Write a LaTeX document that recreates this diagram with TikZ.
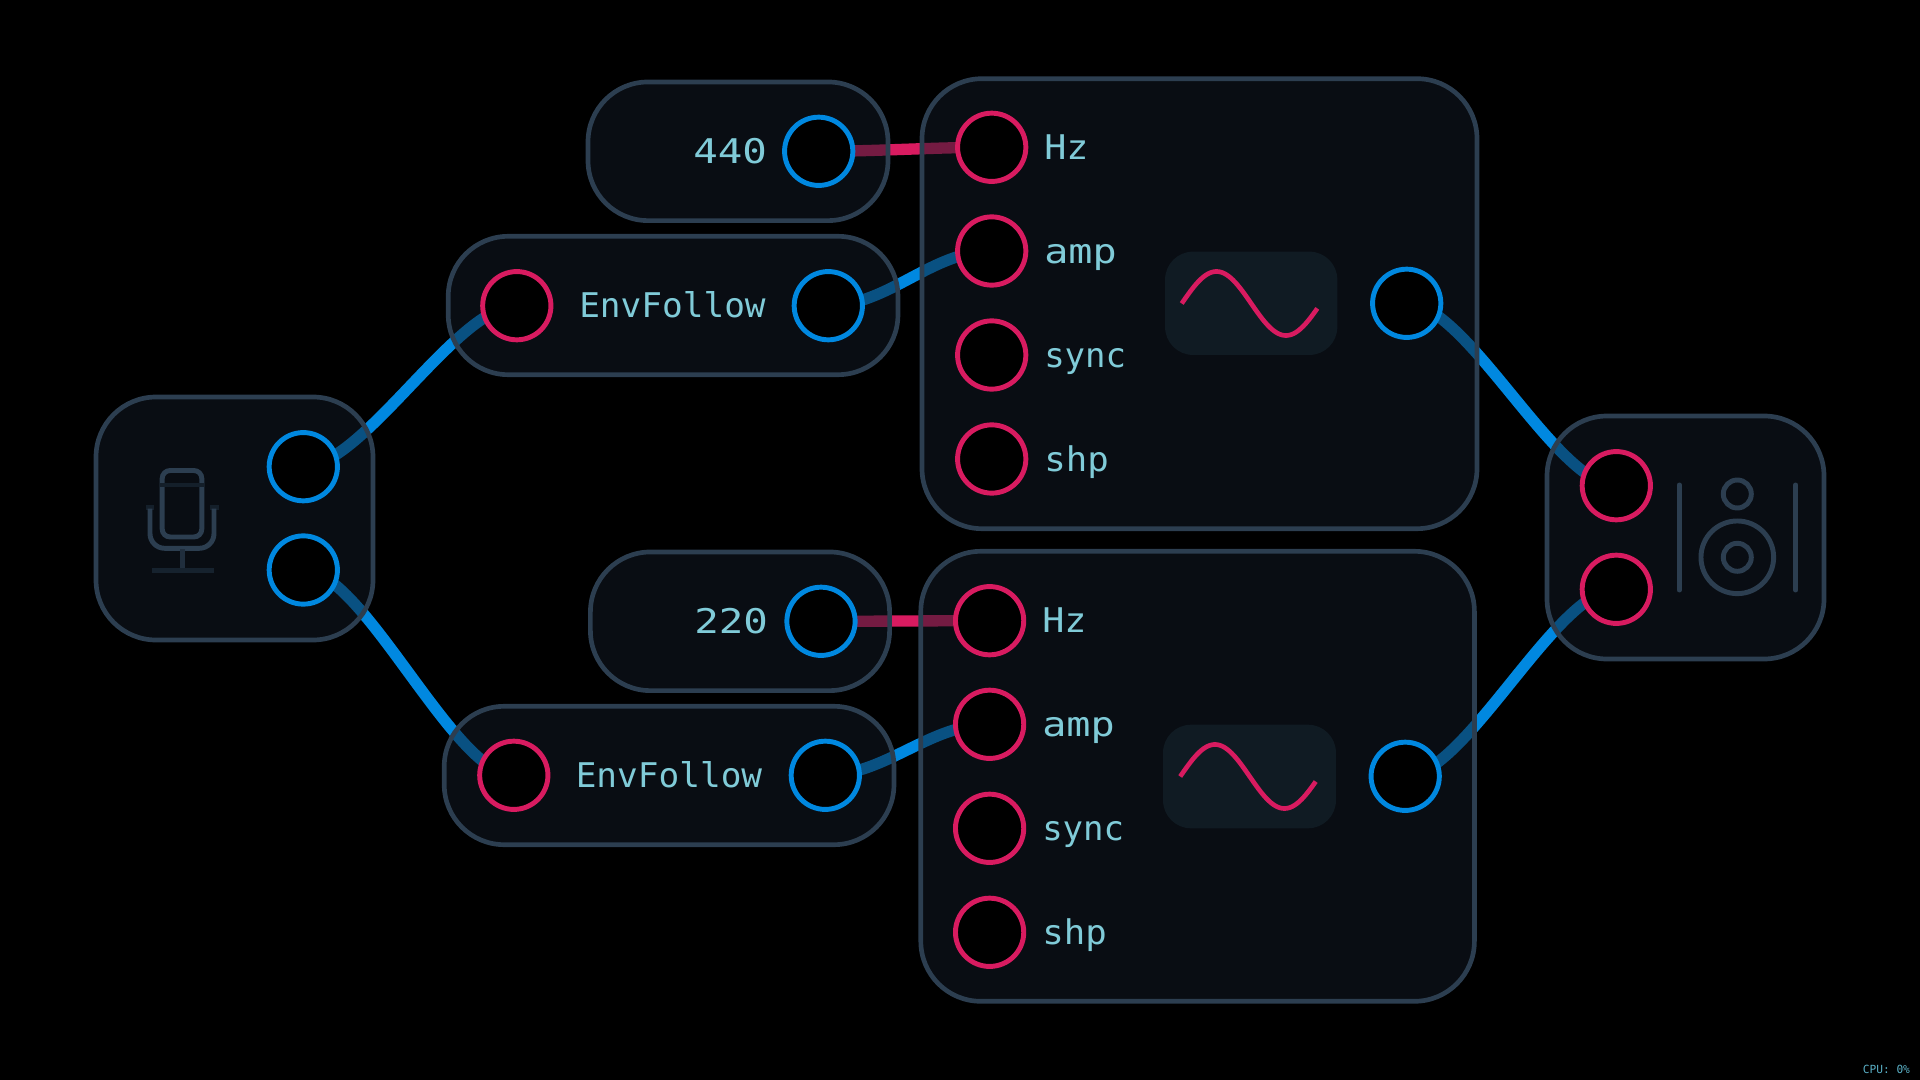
\documentclass[tikz,border=0pt]{standalone}
\usepackage{fontspec}
\setmainfont{DejaVu Sans Mono}
\definecolor{edgec}{HTML}{2C3E50}
\definecolor{bluec}{HTML}{0088E0}
\definecolor{pinkc}{HTML}{D81B60}
\definecolor{textc}{HTML}{80CBD8}
\definecolor{boxc}{HTML}{121B26}
\definecolor{wavec}{HTML}{101B23}
\definecolor{dimc}{HTML}{141F2A}
\definecolor{cpuc}{HTML}{5AB0C6}
\pgfdeclarelayer{back}\pgfdeclarelayer{wire}\pgfdeclarelayer{box}
\pgfsetlayers{back,wire,box,main}
\tikzset{
  x=0.75pt,y=-0.75pt,
  modbox/.style={rectangle,draw=edgec,fill=boxc,fill opacity=.5,line width=3.5pt,rounded corners=45pt,inner sep=0pt,outer sep=0pt},
  portout/.style={circle,draw=bluec,fill=black,line width=3.7pt,minimum size=51.2pt,inner sep=0pt},
  portin/.style={circle,draw=pinkc,fill=black,line width=3.7pt,minimum size=51.2pt,inner sep=0pt},
  wirebl/.style={draw=bluec,line width=8.5pt},
  wirepk/.style={draw=pinkc,line width=8.5pt},
  lab/.style={text=textc,font=\fontsize{25.5pt}{25.5pt}\selectfont,anchor=base west,inner sep=0pt},
  icon/.style={draw=edgec,line width=3.7pt},
  wavebox/.style={rectangle,fill=wavec,rounded corners=21pt,inner sep=0pt},
  wavepath/.style={draw=pinkc,line width=3.5pt,line join=round},
}
\begin{document}
\begin{tikzpicture}
\begin{pgfonlayer}{back}
\fill[black] (0,0) rectangle (1920,1080);
\end{pgfonlayer}
\useasboundingbox (0,0) rectangle (1920,1080);
% boxes
\begin{pgfonlayer}{box}
\node[modbox,minimum width=207.75pt,minimum height=182.25pt] (mic) at (234.5,518.5) {};
\node[modbox,minimum width=207.75pt,minimum height=182.25pt] (spk) at (1685.5,537.5) {};
\node[modbox,minimum width=225pt,minimum height=104pt] (c440) at (738,151.3) {};
\node[modbox,minimum width=337.3pt,minimum height=103.8pt] (env1) at (673.1,305.5) {};
\node[modbox,minimum width=416.25pt,minimum height=337.5pt] (osc1) at (1199.5,303.7) {};
\node[modbox,minimum width=224.4pt,minimum height=104pt] (c220) at (740,621.3) {};
\node[modbox,minimum width=337.3pt,minimum height=103.8pt] (env2) at (669.1,775.5) {};
\node[modbox,minimum width=415.2pt,minimum height=337.5pt] (osc2) at (1197.6,776.3) {};
\end{pgfonlayer}
% wave boxes
\node[wavebox,minimum width=129.2pt,minimum height=77.5pt] (w1) at (1251.2,303.3) {};
\node[wavebox,minimum width=129.7pt,minimum height=77.7pt] (w2) at (1249.5,776.5) {};
\draw[wavepath] plot[domain=1181.7:1317.3,samples=70] (\x,{303.5-32*sin((\x-1181.7)/69.5*180)});
\draw[wavepath] plot[domain=1180.2:1315.7,samples=70] (\x,{776.5-32*sin((\x-1180.2)/69.5*180)});
% ports
\node[portout] (micA) at (303.3,466.7) {};
\node[portout] (micB) at (303.3,570) {};
\node[portin] (spkA) at (1616.3,485.7) {};
\node[portin] (spkB) at (1616.3,589.3) {};
\node[portout] (v440) at (818.7,151.3) {};
\node[portin] (e1in) at (516.8,305.7) {};
\node[portout] (e1out) at (828.3,305.7) {};
\node[portin] (a1) at (991.7,147.3) {};
\node[portin] (a2) at (991.7,251) {};
\node[portin] (a3) at (991.7,355) {};
\node[portin] (a4) at (991.7,459) {};
\node[portout] (a5) at (1406.7,303.3) {};
\node[portout] (v220) at (821,621.3) {};
\node[portin] (e2in) at (513.8,775.3) {};
\node[portout] (e2out) at (825.3,775.3) {};
\node[portin] (b1) at (989.6,620.7) {};
\node[portin] (b2) at (989.6,724.3) {};
\node[portin] (b3) at (989.6,828.3) {};
\node[portin] (b4) at (989.6,932.3) {};
\node[portout] (b5) at (1405.2,776.3) {};
% wires
\begin{pgfonlayer}{wire}
\draw[wirebl] (micA.center) .. controls +(60,0) and +(-60,0) .. (e1in.center);
\draw[wirebl] (micB.center) .. controls +(60,0) and +(-60,0) .. (e2in.center);
\draw[wirebl] (e1out.center) .. controls +(60,0) and +(-60,0) .. (a2.center);
\draw[wirebl] (e2out.center) .. controls +(60,0) and +(-60,0) .. (b2.center);
\draw[wirebl] (a5.center) .. controls +(60,0) and +(-60,0) .. (spkA.center);
\draw[wirebl] (b5.center) .. controls +(60,0) and +(-60,0) .. (spkB.center);
\draw[wirepk] (v440.center) .. controls +(60,0) and +(-60,0) .. (a1.center);
\draw[wirepk] (v220.center) .. controls +(60,0) and +(-60,0) .. (b1.center);
\end{pgfonlayer}
% labels
\node[lab] (t1) at (693,163.3) {\scalebox{1.2}[1]{440}};
\node[lab] (t2) at (579,317.3) {\scalebox{1.012}[1]{EnvFollow}};
\node[lab] (t3) at (1044,159.3) {\scalebox{1.08}[1]{Hz}};
\node[lab] (t4) at (1044,264) {\scalebox{1.18}[1]{amp}};
\node[lab] (t5) at (1044,368) {sync};
\node[lab] (t6) at (1044,471) {\scalebox{1.05}[1]{shp}};
\node[lab] (t7) at (694,633.3) {\scalebox{1.2}[1]{220}};
\node[lab] (t8) at (575.5,787.3) {\scalebox{1.012}[1]{EnvFollow}};
\node[lab] (t9) at (1042,632.7) {\scalebox{1.08}[1]{Hz}};
\node[lab] (t10) at (1042,736.3) {\scalebox{1.18}[1]{amp}};
\node[lab] (t11) at (1042,840.3) {sync};
\node[lab] (t12) at (1042,944.3) {\scalebox{1.05}[1]{shp}};
\node[text=cpuc,font=\fontsize{8.4pt}{8.4pt}\selectfont,anchor=base west,inner sep=0pt] (cpu) at (1862.5,1073) {CPU: 0\%};
% microphone icon
\draw[dimc,line width=3.5pt] (146,507.3) -- (154,507.3) (210,507.3) -- (218.5,507.3);
\draw[icon,rounded corners=6pt] (162.2,470.5) rectangle (201.8,537);
\draw[dimc,line width=3.5pt] (160,485) -- (204,485);
\draw[icon,rounded corners=11pt] (150,508.5) -- (150,548.3) -- (214,548.3) -- (214,508.5);
\draw[dimc!50!edgec,line width=3.5pt] (182.3,549) -- (182.3,570.7);
\draw[dimc!90!edgec,line width=3.5pt] (151.7,570.7) -- (214,570.7);
% speaker icon
\draw[icon,line cap=round] (1679.3,485) -- (1679.3,590);
\draw[icon,line cap=round] (1795.7,485) -- (1795.7,590);
\node[circle,draw=edgec,line width=3.7pt,minimum size=21pt,inner sep=0pt] (s1) at (1737.3,494) {};
\node[circle,draw=edgec,line width=3.7pt,minimum size=54.5pt,inner sep=0pt] (s2) at (1737.3,557.3) {};
\node[circle,draw=edgec,line width=3.7pt,minimum size=21pt,inner sep=0pt] (s3) at (1737.3,557.3) {};
\end{tikzpicture}
\end{document}
